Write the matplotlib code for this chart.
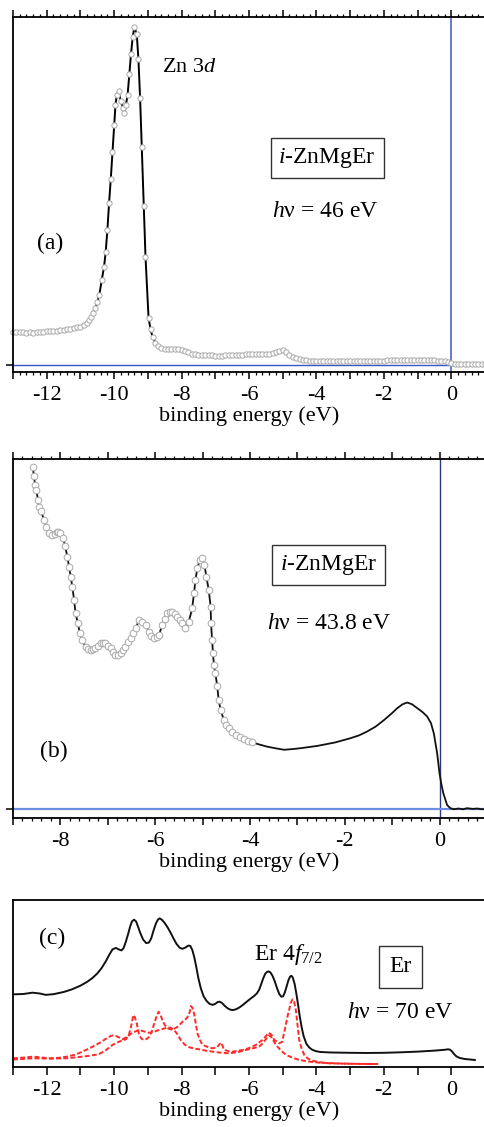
import matplotlib
matplotlib.use('Agg')
import matplotlib.pyplot as plt
from matplotlib.ticker import MultipleLocator, FuncFormatter

plt.rcParams['font.family'] = 'Liberation Serif'
plt.rcParams['mathtext.fontset'] = 'custom'
plt.rcParams['mathtext.rm'] = 'Liberation Serif'
plt.rcParams['mathtext.it'] = 'Liberation Serif:italic'
plt.rcParams['font.size'] = 16

# ---- panel (a): i-ZnMgEr, hv = 46 eV ----
a_energy = [-13.0, -12.9, -12.8, -12.7, -12.6, -12.5, -12.4, -12.3, -12.2, -12.1,
            -12.0, -11.9, -11.8, -11.7, -11.6, -11.5, -11.4, -11.3, -11.2, -11.1,
            -11.0, -10.9, -10.8, -10.74, -10.68, -10.62, -10.56, -10.5, -10.44, -10.37,
            -10.3, -10.25, -10.2, -10.15, -10.1, -10.05, -10.0, -9.96, -9.92, -9.87,
            -9.8, -9.73, -9.7, -9.65, -9.6, -9.55, -9.5, -9.45, -9.4, -9.33,
            -9.28, -9.23, -9.18, -9.12, -9.07, -8.98, -8.92, -8.86, -8.78, -8.7,
            -8.6, -8.5, -8.4, -8.3, -8.2, -8.1, -8.0, -7.9, -7.8, -7.7,
            -7.6, -7.5, -7.4, -7.3, -7.2, -7.1, -7.0, -6.9, -6.8, -6.7,
            -6.6, -6.5, -6.4, -6.3, -6.2, -6.1, -6.0, -5.9, -5.8, -5.7,
            -5.6, -5.5, -5.4, -5.3, -5.2, -5.1, -5.0, -4.9, -4.8, -4.7,
            -4.6, -4.5, -4.4, -4.3, -4.2, -4.1, -4.0, -3.9, -3.8, -3.7,
            -3.6, -3.5, -3.4, -3.3, -3.2, -3.1, -3.0, -2.9, -2.8, -2.7,
            -2.6, -2.5, -2.4, -2.3, -2.2, -2.1, -2.0, -1.9, -1.8, -1.7,
            -1.6, -1.5, -1.4, -1.3, -1.2, -1.1, -1.0, -0.9, -0.8, -0.7,
            -0.6, -0.5, -0.4, -0.3, -0.2, -0.1, 0.0, 0.1, 0.2, 0.3,
            0.4, 0.5, 0.6, 0.7, 0.8, 0.9, 1.0]
a_counts = [0.098, 0.097, 0.098, 0.096, 0.095, 0.096, 0.095, 0.096, 0.097, 0.098,
            0.099, 0.100, 0.100, 0.101, 0.102, 0.104, 0.105, 0.107, 0.109, 0.111,
            0.113, 0.117, 0.124, 0.133, 0.143, 0.155, 0.168, 0.185, 0.207, 0.25,
            0.29, 0.335, 0.40, 0.48, 0.55, 0.63, 0.71, 0.77, 0.80, 0.81,
            0.78, 0.76, 0.745, 0.77, 0.80, 0.86, 0.92, 0.97, 1.0, 0.98,
            0.905, 0.79, 0.645, 0.47, 0.32, 0.14, 0.105, 0.083, 0.065, 0.057,
            0.051, 0.048, 0.047, 0.046, 0.046, 0.047, 0.045, 0.041, 0.037, 0.033,
            0.031, 0.029, 0.028, 0.028, 0.028, 0.028, 0.027, 0.027, 0.027, 0.028,
            0.028, 0.029, 0.029, 0.030, 0.030, 0.031, 0.031, 0.032, 0.032, 0.033,
            0.033, 0.033, 0.032, 0.034, 0.038, 0.042, 0.043, 0.038, 0.030, 0.024,
            0.020, 0.017, 0.015, 0.014, 0.013, 0.012, 0.012, 0.012, 0.012, 0.011,
            0.011, 0.011, 0.011, 0.011, 0.011, 0.012, 0.012, 0.012, 0.012, 0.012,
            0.012, 0.012, 0.013, 0.013, 0.013, 0.013, 0.013, 0.014, 0.014, 0.014,
            0.014, 0.014, 0.014, 0.015, 0.015, 0.015, 0.015, 0.016, 0.016, 0.016,
            0.015, 0.014, 0.013, 0.012, 0.011, 0.008, 0.005, 0.003, 0.002, 0.002,
            0.002, 0.002, 0.002, 0.002, 0.002, 0.002, 0.002]

# ---- panel (b): i-ZnMgEr, hv = 43.8 eV (circles measured, line = full curve) ----
b_energy = [-8.58, -8.56, -8.53, -8.51, -8.47, -8.45, -8.40, -8.35, -8.30, -8.24,
            -8.17, -8.12, -8.08, -8.04, -8.00, -7.94, -7.90, -7.85, -7.82, -7.78,
            -7.75, -7.71, -7.68, -7.63, -7.59, -7.54, -7.47, -7.42, -7.36, -7.31,
            -7.26, -7.20, -7.15, -7.10, -7.05, -7.00, -6.94, -6.89, -6.84, -6.78,
            -6.73, -6.68, -6.63, -6.57, -6.52, -6.46, -6.41, -6.34, -6.28, -6.20,
            -6.13, -6.08, -6.03, -5.97, -5.92, -5.85, -5.80, -5.74, -5.69, -5.64,
            -5.58, -5.53, -5.48, -5.43, -5.36, -5.29, -5.22, -5.18, -5.15, -5.11,
            -5.06, -5.01, -4.96, -4.92, -4.87, -4.83, -4.82, -4.80, -4.78, -4.76,
            -4.73, -4.69, -4.66, -4.62, -4.55, -4.50, -4.45, -4.38, -4.30, -4.22,
            -4.13, -4.04, -3.95,
            -3.8, -3.64, -3.45, -3.28, -3.1, -2.9, -2.58, -2.2, -1.88, -1.7,
            -1.53, -1.35, -1.17, -1.0, -0.89, -0.78, -0.68, -0.58, -0.47, -0.36,
            -0.26, -0.18, -0.12, -0.05, 0.0, 0.04, 0.08, 0.16, 0.23, 0.30,
            0.4, 0.5, 0.58, 0.7, 0.8, 0.9, 1.0]
b_counts = [0.978, 0.95, 0.925, 0.91, 0.883, 0.864, 0.85, 0.826, 0.807, 0.788,
            0.783, 0.787, 0.79, 0.791, 0.788, 0.773, 0.75, 0.72, 0.692, 0.664,
            0.635, 0.597, 0.559, 0.53, 0.502, 0.483, 0.464, 0.457, 0.454, 0.456,
            0.459, 0.466, 0.473, 0.475, 0.473, 0.466, 0.459, 0.449, 0.44, 0.441,
            0.445, 0.453, 0.464, 0.476, 0.488, 0.502, 0.516, 0.54, 0.535, 0.526,
            0.507, 0.495, 0.488, 0.49, 0.497, 0.526, 0.543, 0.559, 0.564, 0.564,
            0.556, 0.549, 0.54, 0.53, 0.516, 0.535, 0.573, 0.616, 0.654, 0.688,
            0.711, 0.716, 0.697, 0.664, 0.626, 0.578, 0.53, 0.483, 0.445, 0.41,
            0.388, 0.35, 0.311, 0.283, 0.254, 0.24, 0.23, 0.22, 0.211, 0.205,
            0.199, 0.194, 0.19,
            0.184, 0.178, 0.173, 0.169, 0.171, 0.174, 0.18, 0.19, 0.202, 0.21,
            0.221, 0.235, 0.254, 0.274, 0.288, 0.299, 0.304, 0.299, 0.288, 0.277,
            0.264, 0.245, 0.216, 0.159, 0.102, 0.07, 0.045, 0.011, 0.002, -0.001,
            0.001, -0.001, 0.002, 0.0, 0.001, -0.001, 0.0]
b_n_measured = 93  # points shown as open circles

# ---- panel (c): Er, hv = 70 eV ----
c_energy = [-13.02, -12.7, -12.42, -12.2, -12.03, -11.8, -11.5, -11.25, -11.0, -10.8,
            -10.65, -10.5, -10.38, -10.25, -10.15, -10.05, -9.95, -9.85, -9.78, -9.72,
            -9.65, -9.58, -9.52, -9.47, -9.41, -9.35, -9.3, -9.22, -9.14, -9.05,
            -8.97, -8.9, -8.83, -8.76, -8.7, -8.65, -8.58, -8.5, -8.42, -8.33,
            -8.24, -8.15, -8.05, -7.97, -7.88, -7.8, -7.74, -7.68, -7.62, -7.56,
            -7.5, -7.43, -7.35, -7.26, -7.17, -7.08, -7.0, -6.93, -6.87, -6.8,
            -6.72, -6.63, -6.55, -6.47, -6.38, -6.28, -6.18, -6.06, -5.95, -5.85,
            -5.77, -5.7, -5.64, -5.58, -5.52, -5.46, -5.41, -5.36, -5.3, -5.24,
            -5.17, -5.1, -5.04, -4.99, -4.94, -4.88, -4.83, -4.78, -4.74, -4.7,
            -4.65, -4.6, -4.55, -4.5, -4.44, -4.38, -4.3, -4.22, -4.13, -4.02,
            -3.88, -3.6, -3.0, -2.5, -2.0, -1.5, -1.0, -0.5, -0.2, -0.1,
            -0.04, 0.02, 0.08, 0.15, 0.25, 0.4, 0.55, 0.7]
c_counts = [0.435, 0.437, 0.445, 0.44, 0.432, 0.436, 0.449, 0.465, 0.487, 0.51,
            0.532, 0.56, 0.59, 0.632, 0.67, 0.704, 0.713, 0.703, 0.698, 0.712,
            0.752, 0.8, 0.845, 0.872, 0.882, 0.872, 0.845, 0.8, 0.763, 0.742,
            0.745, 0.77, 0.818, 0.86, 0.883, 0.89, 0.881, 0.862, 0.838, 0.806,
            0.77, 0.737, 0.713, 0.708, 0.716, 0.727, 0.725, 0.7, 0.655, 0.595,
            0.53, 0.472, 0.425, 0.396, 0.378, 0.372, 0.378, 0.389, 0.391, 0.383,
            0.366, 0.351, 0.343, 0.341, 0.346, 0.357, 0.372, 0.392, 0.41, 0.425,
            0.44, 0.462, 0.495, 0.53, 0.558, 0.57, 0.572, 0.565, 0.545, 0.515,
            0.473, 0.436, 0.421, 0.423, 0.445, 0.485, 0.52, 0.542, 0.546, 0.535,
            0.5, 0.445, 0.38, 0.31, 0.24, 0.185, 0.14, 0.118, 0.104, 0.095,
            0.09, 0.087, 0.085, 0.084, 0.085, 0.088, 0.092, 0.098, 0.103, 0.106,
            0.104, 0.094, 0.078, 0.064, 0.054, 0.048, 0.045, 0.042]

# calculated multiplets (red dashed)
calc1_energy = [-13.0, -12.7, -12.4, -12.15, -11.9, -11.65, -11.4, -11.15, -10.94, -10.7,
                -10.45, -10.25, -10.1, -10.0, -9.88, -9.75, -9.62, -9.5, -9.38, -9.26,
                -9.1, -8.96, -8.8, -8.66, -8.52, -8.42, -8.32, -8.22, -8.12, -8.02,
                -7.9, -7.77, -7.62, -7.48, -7.28, -7.08, -6.85, -6.59, -6.35, -6.09,
                -5.88, -5.70, -5.58, -5.48, -5.40, -5.32, -5.2, -5.05, -4.90, -4.7,
                -4.51, -4.2, -3.92, -3.3, -2.6, -2.17]
calc1_counts = [0.052, 0.056, 0.062, 0.057, 0.052, 0.055, 0.062, 0.074, 0.092, 0.115,
                0.142, 0.168, 0.186, 0.19, 0.18, 0.166, 0.18, 0.20, 0.212, 0.222,
                0.212, 0.205, 0.212, 0.222, 0.23, 0.237, 0.235, 0.222, 0.195, 0.16,
                0.133, 0.118, 0.11, 0.106, 0.098, 0.092, 0.086, 0.082, 0.088, 0.102,
                0.112, 0.122, 0.145, 0.172, 0.19, 0.175, 0.132, 0.098, 0.072, 0.055,
                0.042, 0.032, 0.026, 0.021, 0.018, 0.018]
calc2_energy = [-13.0, -12.4, -11.9, -11.4, -10.94, -10.7, -10.45, -10.25, -10.05, -9.85,
                -9.65, -9.56, -9.5, -9.46, -9.43, -9.39, -9.33, -9.26, -9.18, -9.11,
                -9.03, -8.96, -8.88, -8.81, -8.74, -8.68, -8.62, -8.57, -8.5, -8.42,
                -8.27, -8.12, -7.97, -7.87, -7.8, -7.75, -7.72, -7.68, -7.63, -7.58,
                -7.53, -7.45, -7.38, -7.2, -7.08, -6.95, -6.88, -6.83, -6.78, -6.74,
                -6.6, -6.49, -6.3, -6.09, -5.95, -5.80, -5.6, -5.5, -5.42, -5.34,
                -5.25, -5.10, -5.02, -4.96, -4.9, -4.85, -4.81, -4.76, -4.71, -4.66,
                -4.61, -4.56, -4.51, -4.44, -4.36, -4.25, -4.12, -3.9, -3.62, -3.0,
                -2.17]
calc2_counts = [0.045, 0.052, 0.05, 0.052, 0.062, 0.068, 0.077, 0.1, 0.132, 0.152,
                0.166, 0.195, 0.241, 0.28, 0.311, 0.3, 0.262, 0.19, 0.168, 0.162,
                0.168, 0.181, 0.215, 0.262, 0.305, 0.331, 0.31, 0.281, 0.252, 0.232,
                0.222, 0.241, 0.271, 0.288, 0.305, 0.335, 0.365, 0.355, 0.321, 0.26,
                0.202, 0.16, 0.132, 0.118, 0.112, 0.118, 0.135, 0.146, 0.125, 0.102,
                0.095, 0.092, 0.098, 0.106, 0.118, 0.132, 0.162, 0.185, 0.205, 0.195,
                0.162, 0.142, 0.15, 0.202, 0.26, 0.31, 0.341, 0.385, 0.405, 0.39,
                0.341, 0.25, 0.162, 0.11, 0.072, 0.05, 0.038, 0.028, 0.022, 0.019,
                0.018]

W, H = 485, 1127
fig = plt.figure(figsize=(W / 100, H / 100), dpi=100)


def even_labels(v, pos):
    n = int(round(v))
    return str(n) if n % 2 == 0 else ''


def style_axis(ax, xlim, fine=True):
    ax.set_xlim(*xlim)
    ax.spines['right'].set_visible(False)
    for s in ['left', 'bottom', 'top']:
        ax.spines[s].set_linewidth(1.3)
    ax.xaxis.set_major_locator(MultipleLocator(1))
    ax.xaxis.set_major_formatter(FuncFormatter(even_labels))
    if fine:
        ax.xaxis.set_minor_locator(MultipleLocator(0.2))
        ax.tick_params(axis='x', which='major', direction='out', top=True,
                       length=5, width=1.1, pad=5, labelsize=16)
        ax.tick_params(axis='x', which='minor', direction='out', top=True,
                       length=2.5, width=0.9)
        ax.set_yticks([0])
        ax.set_yticklabels([''])
        ax.tick_params(axis='y', direction='out', length=5, width=1.1)
    else:
        ax.tick_params(axis='x', which='major', direction='out', top=False,
                       length=6, width=1.1, pad=4, labelsize=16)
        ax.set_yticks([])
    ax.set_xlabel('binding energy (eV)', fontsize=16, labelpad=1)


box = dict(boxstyle='square,pad=0.33', fc='white', ec='#333333', lw=1.0)

# (a)
ax1 = fig.add_axes([13 / W, (H - 372) / H, 472 / W, 355 / H])
style_axis(ax1, (-13, 1))
ax1.set_ylim(-0.021, 1.03)
ax1.axvline(0, color='#3a55c8', lw=1.1)
ax1.axhline(0, color='#3a55c8', lw=1.0)
ax1.plot(a_energy, a_counts, color='black', lw=1.4, marker='o', ms=3.8,
         mfc='white', mec='#a8a8a8', mew=0.7, clip_on=False)
ax1.text(-8.58, 0.88, 'Zn 3$d$', ha='left', va='center', fontsize=16)
ax1.text(-3.68, 0.612, '$i$-ZnMgEr', ha='center', va='center', fontsize=17, bbox=box)
ax1.text(-3.74, 0.453, '$h$ν = 46 eV', ha='center', va='center', fontsize=17)
ax1.text(-11.9, 0.361, '(a)', ha='center', va='center', fontsize=17)

# (b)
ax2 = fig.add_axes([13 / W, (H - 818) / H, 472 / W, 359 / H])
style_axis(ax2, (-9, 0.96))
ax2.set_ylim(-0.026, 1.0)
ax2.axvline(0, color='#2b3a85', lw=1.0)
ax2.axhline(0, color='#6f8ee0', lw=1.6)
ax2.plot(b_energy, b_counts, color='#111111', lw=1.3)
ax2.plot(b_energy[:b_n_measured], b_counts[:b_n_measured], ls='none', marker='o',
         ms=4.8, mfc='white', mec='#a8a8a8', mew=0.7)
ax2.text(-2.34, 0.697, '$i$-ZnMgEr', ha='center', va='center', fontsize=17, bbox=box)
ax2.text(-2.34, 0.531, '$h$ν = 43.8 eV', ha='center', va='center', fontsize=17)
ax2.text(-8.14, 0.163, '(b)', ha='center', va='center', fontsize=17)

# (c)
ax3 = fig.add_axes([13 / W, (H - 1067) / H, 472 / W, 167 / H])
style_axis(ax3, (-13, 1), fine=False)
ax3.set_ylim(0, 1)
ax3.plot(calc1_energy, calc1_counts, color='#ff2a2a', lw=1.4, ls=(0, (2.5, 1.2)))
ax3.plot(calc2_energy, calc2_counts, color='#ff2a2a', lw=1.4, ls=(0, (2.5, 1.2)))
ax3.plot(c_energy, c_counts, color='#111111', lw=1.4)
ax3.text(-11.84, 0.772, '(c)', ha='center', va='center', fontsize=17)
ax3.text(-5.85, 0.64, r'Er 4$f_{\mathrm{7/2}}$', ha='left', va='baseline', fontsize=17)
ax3.text(-1.51, 0.599, 'Er', ha='center', va='center', fontsize=17,
         bbox=dict(boxstyle='square,pad=0.45', fc='white', ec='#333333', lw=1.0))
ax3.text(-1.51, 0.329, '$h$ν = 70 eV', ha='center', va='center', fontsize=17)

fig.savefig('out.png', dpi=100)
